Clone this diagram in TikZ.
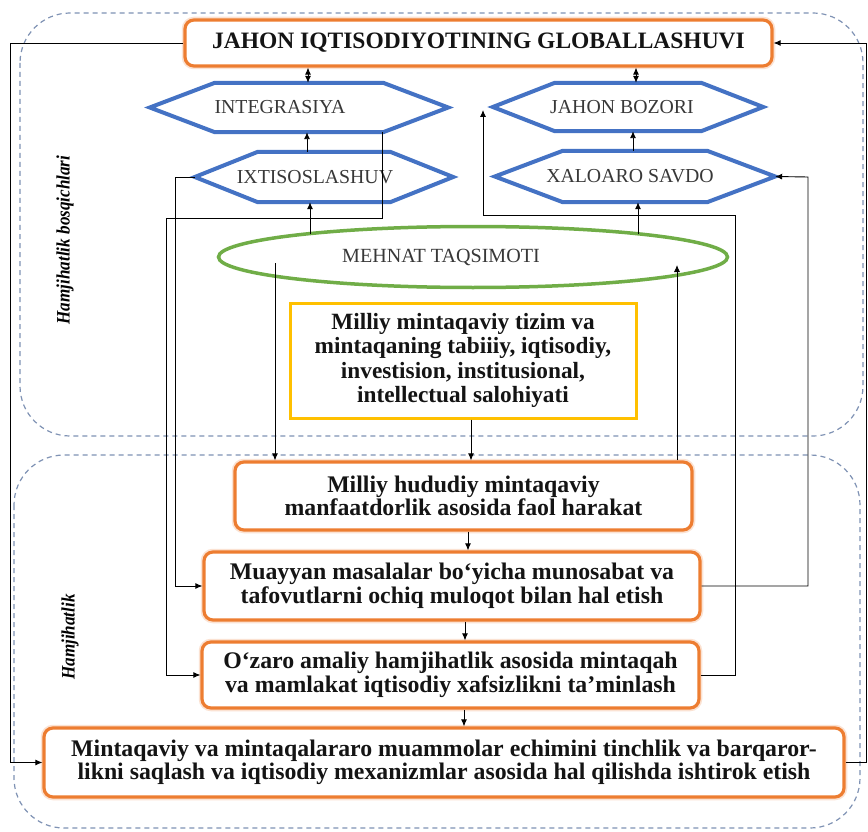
\documentclass[tikz,border=0pt]{standalone}
\usepackage{graphicx}
\usepackage{fontspec}
\setmainfont{Liberation Serif}
\usetikzlibrary{arrows.meta,shapes.geometric}
\definecolor{orng}{HTML}{ED7D31}
\definecolor{hexblue}{HTML}{4472C4}
\definecolor{grn}{HTML}{70AD47}
\definecolor{ylw}{HTML}{FFC000}
\definecolor{dashc}{HTML}{7F92B4}
\newcommand\hexdraw[2]{\draw[hexl] (#1.west) -- ([xshift=#2]#1.north west) -- ([xshift=-#2]#1.north east) -- (#1.east) -- ([xshift=-#2]#1.south east) -- ([xshift=#2]#1.south west) -- cycle;}
\newcommand\padr[1]{\rule{#1}{0pt}}
\begin{document}
\begin{tikzpicture}[x=1pt,y=-1pt,
  obox/.style={draw=orng, line width=3.2pt, rounded corners=9pt, fill=white,
    preaction={draw=orng!22, line width=6.5pt}, align=center, text=black!92,
    font=\bfseries\fontsize{23.8}{23.5}\selectfont, inner sep=0pt},
  hexn/.style={inner sep=0pt, font=\fontsize{19.8}{21}\selectfont, text=black!78},
  hexl/.style={draw=hexblue, line width=4pt, line join=miter},
  conn/.style={draw=black, line width=0.9pt},
  arr/.style={conn, -{Latex[length=7pt,width=6pt]}},
  darr/.style={conn, {Latex[length=7pt,width=6pt]}-{Latex[length=7pt,width=6pt]}},
  frame/.style={draw=dashc, dash pattern=on 5pt off 4pt, line width=1.2pt, rounded corners=50pt},
  sidelab/.style={rotate=90, font=\bfseries\itshape\fontsize{19}{21}\selectfont, inner sep=0pt},
]
\useasboundingbox (0,0) rectangle (868,832);
\fill[white] (0,0) rectangle (868,832);
% dashed frames
\draw[frame] (20,13) rectangle (863,436);
\draw[frame] (14,455) rectangle (860,828);
% side labels
\node[sidelab] (lab1) at (65,240) {\scalebox{0.9}[1]{Hamjihatlik bosqichlari}};
\node[sidelab] (lab2) at (70,637) {\scalebox{0.9}[1]{Hamjihatlik}};
% main boxes
\node[obox, minimum width=587pt, minimum height=46pt, font=\bfseries\fontsize{23.5}{25}\selectfont] (top) at (478.5,43) {JAHON IQTISODIYOTINING GLOBALLASHUVI};
\node[hexn, minimum width=298pt, minimum height=49pt] (integ) at (299,107.5) {INTEGRASIYA\padr{38pt}};
\node[hexn, minimum width=258pt, minimum height=50pt] (ixt) at (324,177) {IXTISOSLASHUV\padr{18pt}};
\node[hexn, minimum width=270pt, minimum height=48pt] (jbz) at (628,107) {JAHON BOZORI\padr{12pt}};
\node[hexn, minimum width=280pt, minimum height=51pt] (xal) at (635,176.5) {XALOARO SAVDO\padr{10pt}};
\hexdraw{integ}{65pt}
\hexdraw{ixt}{63pt}
\hexdraw{jbz}{62pt}
\hexdraw{xal}{68pt}
\node[ellipse, draw=grn, line width=3.5pt, minimum width=509pt, minimum height=61pt, inner sep=0pt,
  font=\fontsize{20.1}{22}\selectfont, text=black!78] (ell) at (473,257) {MEHNAT TAQSIMOTI\padr{64pt}};
\node[draw=ylw, line width=3pt, minimum width=346pt, minimum height=115pt, inner sep=0pt, align=center,
  text=black!92, font=\bfseries\fontsize{23.3}{24.5}\selectfont] (yel) at (463,360.5)
  {Milliy mintaqaviy tizim va\\ mintaqaning tabiiiy, iqtisodiy,\\ investision, institusional,\\ intellectual salohiyati};
\node[obox, minimum width=457pt, minimum height=68pt] (box1) at (463.5,496) {Milliy hududiy mintaqaviy\\ manfaatdorlik asosida faol harakat};
\node[obox, minimum width=496pt, minimum height=68pt] (muay) at (452,586) {Muayyan masalalar bo‘yicha munosabat va\\ tafovutlarni ochiq muloqot bilan hal etish};
\node[obox, minimum width=497pt, minimum height=66pt] (ozaro) at (450.5,675) {O‘zaro amaliy hamjihatlik asosida mintaqah\\ va mamlakat iqtisodiy xafsizlikni ta’minlash};
\node[obox, minimum width=800pt, minimum height=69pt] (bot) at (444,762.5) {Mintaqaviy va mintaqalararo muammolar echimini tinchlik va barqaror-\\ likni saqlash va iqtisodiy mexanizmlar asosida hal qilishda ishtirok etish};
% helper coordinates
\coordinate (lx) at (10,43);
\coordinate (rx) at (866.5,43);
\coordinate (e1) at (310,234);
\coordinate (e2) at (638,234);
\coordinate (e3) at (275,263);
\coordinate (e4) at (677,265);
\coordinate (k1) at (166,218);
\coordinate (k2) at (175,177);
\coordinate (k3) at (808,177);
\coordinate (k4) at (735,215);
\coordinate (k5) at (483,110);
% connectors
\draw[arr] (top.west) -- (lx) |- (bot.west);
\draw[arr] (bot.east) -| (rx) -- (top.east);
\draw[darr] ([xshift=9pt]integ.north) -- ([xshift=9pt]integ.north |- top.south);
\draw[darr] ([xshift=8pt]jbz.north) -- ([xshift=8pt]jbz.north |- top.south);
\draw[arr] ([xshift=-17pt]ixt.north) -- ([xshift=-17pt]ixt.north |- integ.south);
\draw[arr] ([xshift=-2pt]xal.north) -- ([xshift=-2pt]xal.north |- jbz.south);
\draw[arr] (e1) -- (e1 |- ixt.south);
\draw[arr] (e2) -- (e2 |- xal.south);
\draw[arr] ([xshift=83pt]integ.south) |- (k1) |- (ozaro.west);
\draw[arr] (ixt.west) -- (k2) |- (muay.west);
\draw[arr] (e3) -- (e3 |- box1.north);
\draw[arr] ([xshift=8pt]yel.south) -- ([xshift=8pt]yel.south |- box1.north);
\draw[arr] (e4 |- box1.north) -- (e4);
\draw[arr] ([xshift=4.5pt]box1.south) -- ([xshift=4.5pt]box1.south |- muay.north);
\draw[arr] ([xshift=13pt]muay.south) -- ([xshift=13pt]muay.south |- ozaro.north);
\draw[arr] ([xshift=13.5pt]ozaro.south) -- ([xshift=13.5pt]ozaro.south |- bot.north);
\draw[arr] (muay.east) -| (k3) -- (xal.east);
\draw[arr] (ozaro.east) -| (k4) -| (k5);
\end{tikzpicture}
\end{document}
